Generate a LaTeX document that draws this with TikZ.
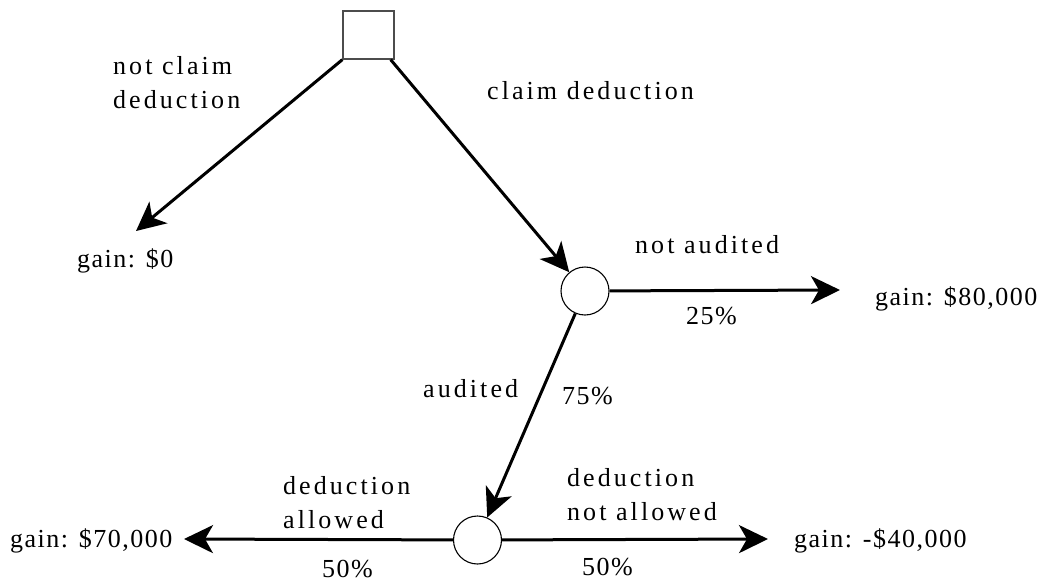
\documentclass[tikz,border=0pt]{standalone}
\usepackage{fontspec}
\setmainfont{Liberation Serif}
\newfontfamily\lblfont[LetterSpace=11.8]{Liberation Serif}
\newfontfamily\numfont[LetterSpace=5.8]{Liberation Serif}
\usetikzlibrary{arrows.meta}
\begin{document}
\begin{tikzpicture}[x=1pt,y=-1pt,
  lbl/.style={inner sep=0pt, anchor=base west, align=left,
    font=\fontsize{26}{34}\selectfont\lblfont},
  num/.style={inner sep=0pt, anchor=base west,
    font=\fontsize{26}{34}\selectfont\numfont},
  decision/.style={draw=black!70, line width=1.3pt, minimum width=51pt, minimum height=48pt, inner sep=0pt},
  chance/.style={draw, circle, line width=1.1pt, minimum size=48pt, inner sep=0pt},
  branch/.style={line width=3pt, -{Stealth[length=29pt, width=28pt, inset=8pt]}}
]
\useasboundingbox (0,0) rectangle (1042,582);
\node[decision] (sq) at (368.5,35) {};
\node[chance] (c1) at (585,291) {};
\node[chance] (c2) at (477.5,540) {};
\coordinate (t0) at (136,231);
\coordinate (t80) at (840,290);
\coordinate (t70) at (184,539);
\coordinate (t40) at (768,539);

\draw[branch] (sq.south west) -- (t0);
\draw[branch] ([xshift=-4pt]sq.south east) -- (c1);
\draw[branch] (c1) -- (t80);
\draw[branch] (c1) -- (c2);
\draw[branch] (c2) -- (t70);
\draw[branch] (c2) -- (t40);

\node[lbl] (l1) at (113,108) {not claim\\deduction};
\node[lbl] (l2) at (487,99) {claim deduction};
\node[num] (g0) at (77,267) {gain: \$0};
\node[lbl] (l3) at (635,253) {not audited};
\node[num] (p25) at (686,324) {25\%};
\node[num] (g80) at (875,305) {gain: \$80,000};
\node[lbl] (l4) at (423,397) {audited};
\node[num] (p75) at (562,404) {75\%};
\node[lbl] (l5) at (283,528) {deduction\\allowed};
\node[num] (p50a) at (322,577) {50\%};
\node[lbl] (l6) at (567,520) {deduction\\not allowed};
\node[num] (p50b) at (582,575) {50\%};
\node[num] (g70) at (10,547) {gain: \$70,000};
\node[num] (g40) at (794,547) {gain: -\$40,000};
\end{tikzpicture}
\end{document}
